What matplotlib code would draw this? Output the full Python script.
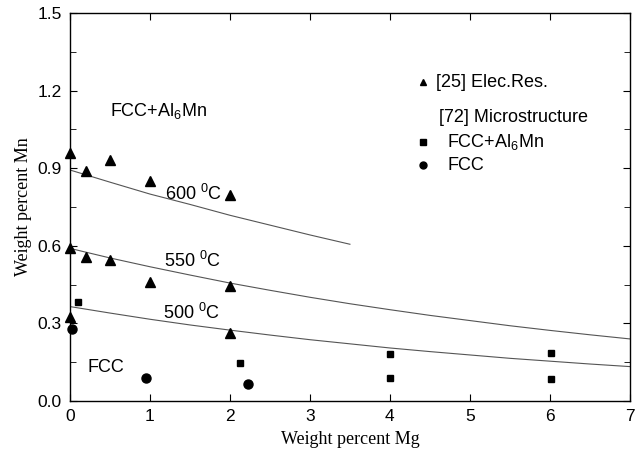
import numpy as np
import matplotlib
matplotlib.use('Agg')
import matplotlib.pyplot as plt
from matplotlib.ticker import MultipleLocator

plt.rcParams['font.family'] = 'Liberation Sans'
plt.rcParams['mathtext.fontset'] = 'custom'
plt.rcParams['mathtext.rm'] = 'Liberation Sans'

# solubility limit curves (wt% Mg vs wt% Mn)
curve_600_mg = [0, 0.5, 1.0, 1.5, 2.0, 2.5, 3.0, 3.5]
curve_600_mn = [0.893, 0.846, 0.80, 0.76, 0.718, 0.68, 0.642, 0.606]
curve_mg = [0, 0.5, 1.0, 1.5, 2.0, 2.5, 3.0, 3.5, 4.0, 4.5, 5.0, 5.5, 6.0, 6.5, 7.0]
curve_550_mn = [0.59, 0.553, 0.519, 0.487, 0.456, 0.428, 0.401, 0.376,
                0.353, 0.331, 0.311, 0.291, 0.273, 0.256, 0.24]
curve_500_mn = [0.365, 0.34, 0.316, 0.294, 0.274, 0.255, 0.237, 0.221,
                0.205, 0.191, 0.178, 0.165, 0.154, 0.143, 0.133]

# [25] electrical resistivity
elec_mg = [0, 0.2, 0.5, 1.0, 2.0, 0, 0.2, 0.5, 1.0, 2.0, 0, 2.0]
elec_mn = [0.957, 0.89, 0.93, 0.85, 0.795, 0.59, 0.555, 0.547, 0.459, 0.446, 0.326, 0.262]

# [72] microstructure
two_phase_mg = [0.1, 2.13, 4.0, 4.0, 6.02, 6.02]
two_phase_mn = [0.384, 0.145, 0.182, 0.087, 0.184, 0.085]
fcc_mg = [0.03, 0.95, 2.22]
fcc_mn = [0.279, 0.089, 0.067]

fig = plt.figure(figsize=(6.44, 4.53), dpi=100)
ax = fig.add_axes([0.1087, 0.1148, 0.8693, 0.8565])

line_kw = dict(color='#555555', lw=0.8)
ax.plot(curve_600_mg, curve_600_mn, **line_kw)
ax.plot(curve_mg, curve_550_mn, **line_kw)
ax.plot(curve_mg, curve_500_mn, **line_kw)

ax.plot(elec_mg, elec_mn, '^', color='black', ms=6.5, clip_on=False)
ax.plot(two_phase_mg, two_phase_mn, 's', color='black', ms=5, clip_on=False)
ax.plot(fcc_mg, fcc_mn, 'o', color='black', ms=6.5, clip_on=False)

ax.set_xlim(0, 7)
ax.set_ylim(0, 1.5)
ax.xaxis.set_major_locator(MultipleLocator(1))
ax.yaxis.set_major_locator(MultipleLocator(0.3))
ax.yaxis.set_minor_locator(MultipleLocator(0.15))
ax.yaxis.set_major_formatter(plt.FormatStrFormatter('%.1f'))
ax.tick_params(which='both', direction='in', top=True, right=True, labelsize=12.5)
ax.tick_params(which='major', length=5)
ax.tick_params(which='minor', length=4)
ax.tick_params(axis='x', pad=6)
ax.tick_params(axis='y', pad=6)
for s in ax.spines.values():
    s.set_linewidth(1.0)

ax.set_xlabel('Weight percent Mg', family='Liberation Serif', fontsize=13, labelpad=5)
ax.set_ylabel('Weight percent Mn', family='Liberation Serif', fontsize=13, labelpad=4)

# region and isotherm labels
ax.text(0.5, 1.12, 'FCC+Al$_6$Mn', fontsize=13, va='center')
ax.text(1.19, 0.80, '600 $^0$C', fontsize=13, va='center')
ax.text(1.17, 0.54, '550 $^0$C', fontsize=13, va='center')
ax.text(1.16, 0.34, '500 $^0$C', fontsize=13, va='center')
ax.text(0.22, 0.13, 'FCC', fontsize=13, va='center')

# legend
ax.plot([4.42], [1.233], '^', color='black', ms=5)
ax.text(4.58, 1.233, '[25] Elec.Res.', fontsize=13, va='center')
ax.text(4.62, 1.097, '[72] Microstructure', fontsize=13, va='center')
ax.plot([4.42], [1.0], 's', color='black', ms=4)
ax.text(4.72, 1.0, 'FCC+Al$_6$Mn', fontsize=13, va='center')
ax.plot([4.42], [0.911], 'o', color='black', ms=5)
ax.text(4.72, 0.911, 'FCC', fontsize=13, va='center')

fig.savefig('out.png', dpi=100)
